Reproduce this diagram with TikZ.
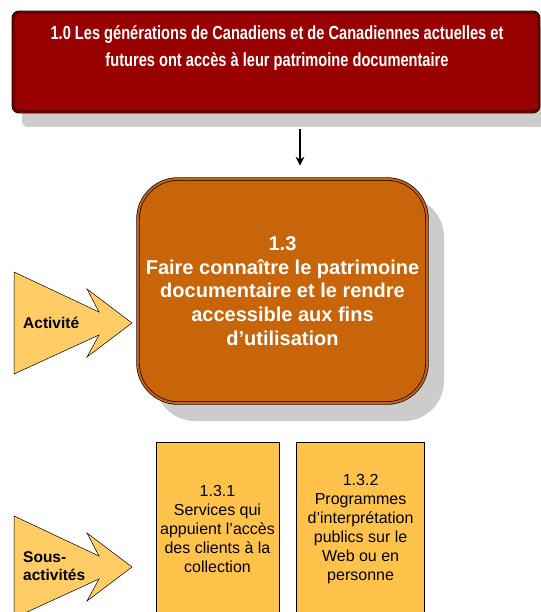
\documentclass[tikz,border=0pt]{standalone}
\usepackage{fontspec}
\setmainfont{Liberation Sans}
\newfontfamily\narrowfont[FakeStretch=0.77]{Liberation Sans}
\usetikzlibrary{positioning, arrows.meta, shadows}

\definecolor{goalred}{HTML}{990000}
\definecolor{goaldark}{HTML}{6A0000}
\definecolor{activityorange}{HTML}{C8640A}
\definecolor{subyellow}{HTML}{FFC34B}
\definecolor{pointeryellow}{HTML}{FFCC66}
\definecolor{shadowgray}{HTML}{CCCCCC}

\begin{document}
\begin{tikzpicture}[
                x=1pt, y=-1pt,
                >={Stealth[length=9pt, width=9pt]},
                goalbox/.style={rectangle, rounded corners=6pt, fill=goalred, draw=black, line width=.6pt,
                    double=goaldark, double distance=1.6pt, minimum width=526pt, minimum height=100pt,
                    drop shadow={shadow xshift=9pt, shadow yshift=-15pt, fill=shadowgray, opacity=1}},
                goaltext/.style={text=white, align=center, font=\narrowfont\bfseries\fontsize{19}{26.3}\selectfont},
                activitybox/.style={rectangle, rounded corners=40pt, fill=activityorange, draw=black, line width=.7pt,
                    double=activityorange, double distance=2pt, minimum width=289pt, minimum height=224pt,
                    text=white, align=center, font=\bfseries\fontsize{20}{23.75}\selectfont,
                    drop shadow={shadow xshift=17pt, shadow yshift=-18pt, fill=shadowgray, opacity=1}},
                subbox/.style={rectangle, fill=subyellow, draw=black, line width=.6pt, minimum height=174pt,
                    align=center, font=\fontsize{16}{19}\selectfont},
                pointer/.style={fill=pointeryellow, draw=black, line width=.5pt, line join=miter},
                pointertext/.style={font=\bfseries\fontsize{15.5}{18}\selectfont, align=left, inner sep=0pt},
                flow/.style={->, line width=1.3pt},
            ]
                \useasboundingbox (0,0) rectangle (540,612);

                % Draw the outcome at the top
                \node[goalbox] (goal) at (276,62) {};
                \node[goaltext] (goaltxt) at (277,48) {1.0 Les générations de Canadiens et de Canadiennes actuelles et\\futures ont accès à leur patrimoine documentaire};

                % Draw the activity
                \node[activitybox] (activity) at (282.5,291)
                    {1.3\\Faire connaître le patrimoine\\documentaire et le rendre\\accessible aux fins\\d’utilisation};

                % Draw the sub-activities
                \node[subbox, minimum width=123pt] (sub-1) at (217.5,529)
                    {1.3.1\\Services qui\\appuient l’accès\\des clients à la\\collection};
                \node[subbox, minimum width=128pt, right=17pt of sub-1] (sub-2)
                    {1.3.2\\Programmes\\d’interprétation\\publics sur le\\Web ou en\\personne};

                % Connect the outcome with the activity
                \coordinate (fromgoal) at ([xshift=24pt, yshift=-17pt]goal.south);
                \draw[flow, shorten >=13pt] (fromgoal) -- (fromgoal |- activity.north);

                % Draw the pointers on the left
                \foreach \name / \dy in {act/0, sub/244}
                    \filldraw[pointer] (14,272+\dy) -- (99,312+\dy) -- (87,289+\dy) -- (132,323+\dy)
                        -- (87,357+\dy) -- (99,335+\dy) -- (14,374+\dy) -- cycle;
                \node[pointertext, anchor=base west] (act-label) at (23,328) {Activité};
                \node[pointertext, anchor=west] (sub-label) at (23,566.5) {Sous-\\activités};
            \end{tikzpicture}
\end{document}
